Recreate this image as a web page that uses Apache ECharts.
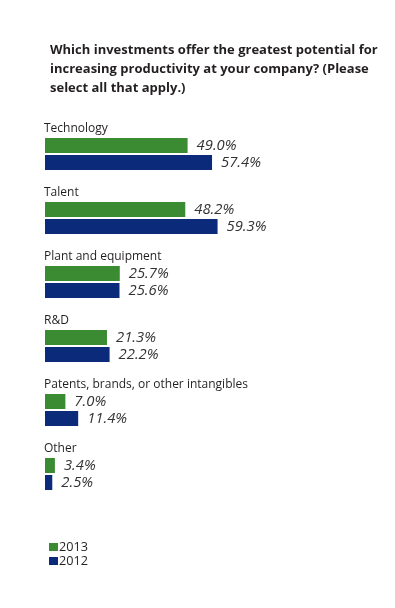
<!DOCTYPE html>
<html><head><meta charset="utf-8">
<script src="https://cdn.jsdelivr.net/npm/echarts@6/dist/echarts.min.js"></script>
<style>html,body{margin:0;padding:0;background:#fff}#c{width:395px;height:608px}</style>
</head><body><div id="c"></div>
<script>
const titleText = 'Which investments offer the greatest potential for\nincreasing productivity at your company? (Please\nselect all that apply.)';
const categories = ['Technology', 'Talent', 'Plant and equipment', 'R&D', 'Patents, brands, or other intangibles', 'Other'];
const seriesNames = ['2013', '2012'];
const values2013 = [49.0, 48.2, 25.7, 21.3, 7.0, 3.4];
const values2012 = [57.4, 59.3, 25.6, 22.2, 11.4, 2.5];

const FONT = '"Open Sans", sans-serif';
const chart = echarts.init(document.getElementById('c'), null, {renderer: 'canvas'});
const valLabel = {
  show: true, position: 'right', distance: 9,
  fontFamily: FONT, fontStyle: 'italic', fontSize: 14.8, color: '#333',
  formatter: p => p.value.toFixed(1) + '%'
};
chart.setOption({
  animation: false,
  title: {
    text: titleText, left: 45, top: 36,
    textStyle: {fontFamily: FONT, fontSize: 13, fontWeight: 'bold', color: '#231f20', lineHeight: 19}
  },
  legend: {
    orient: 'vertical', left: 44, top: 535, itemWidth: 9, itemHeight: 8, itemGap: 0,
    icon: 'rect', data: seriesNames,
    textStyle: {fontFamily: FONT, fontSize: 12.7, color: '#231f20', lineHeight: 14, padding: [0, 0, 0, -4]}
  },
  grid: {left: 45, top: 122, width: 291, height: 384},
  xAxis: {type: 'value', min: 0, max: 100, show: false},
  yAxis: {
    type: 'category', data: categories, inverse: true,
    axisLine: {show: false}, axisTick: {show: false},
    axisLabel: {
      inside: true, align: 'left', verticalAlign: 'middle', margin: -1, lineHeight: 25,
      interval: 0, showMinLabel: true, showMaxLabel: true, hideOverlap: false,
      formatter: v => v + '\n \n ',
      fontFamily: FONT, fontSize: 12, color: '#231f20'
    }
  },
  series: [
    {name: seriesNames[0], type: 'bar', data: values2013, barWidth: 15, barGap: '13%',
     itemStyle: {color: '#3a8b31'}, label: valLabel},
    {name: seriesNames[1], type: 'bar', data: values2012, barWidth: 15, barGap: '13%',
     itemStyle: {color: '#0b2a7a'}, label: valLabel}
  ]
});
</script></body></html>
